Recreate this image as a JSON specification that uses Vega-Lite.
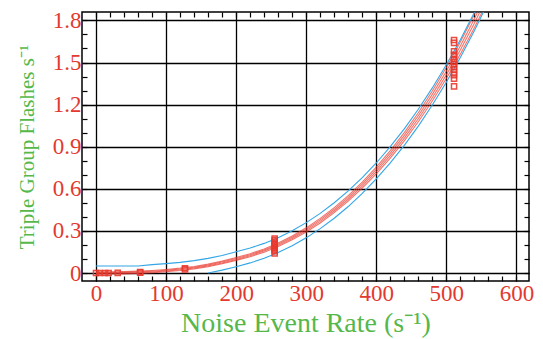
{
  "$schema": "https://vega.github.io/schema/vega-lite/v6.json",
  "width": 447,
  "height": 269,
  "autosize": "none",
  "padding": {"left": 82, "top": 12, "right": 14, "bottom": 58},
  "background": "white",
  "config": {
    "view": {"stroke": "black", "strokeWidth": 1.5},
    "axis": {
      "labelFont": "Liberation Serif",
      "titleFont": "Liberation Serif",
      "titleFontWeight": "normal",
      "labelColor": "#e23a30",
      "titleColor": "#56b84a",
      "domain": false,
      "tickColor": "black",
      "tickWidth": 1.2,
      "gridColor": "black",
      "gridWidth": 1.3,
      "labelOverlap": false,
      "labelFlush": false
    }
  },
  "datasets": {
    "fit": [
      {"x": 0, "r1": -0.008, "r2": -0.003, "r3": 0.003, "r4": 0.008, "up": 0.05, "lo": null},
      {"x": 20, "r1": -0.0075, "r2": -0.0022, "r3": 0.0032, "r4": 0.0085, "up": 0.05, "lo": null},
      {"x": 40, "r1": -0.006, "r2": -0.0007, "r3": 0.0047, "r4": 0.010, "up": 0.05, "lo": null},
      {"x": 60, "r1": -0.0031, "r2": 0.0023, "r3": 0.0077, "r4": 0.0131, "up": 0.05, "lo": null},
      {"x": 80, "r1": 0.0018, "r2": 0.0073, "r3": 0.0127, "r4": 0.0182, "up": 0.060, "lo": null},
      {"x": 100, "r1": 0.0086, "r2": 0.0142, "r3": 0.0198, "r4": 0.0254, "up": 0.067, "lo": null},
      {"x": 120, "r1": 0.0174, "r2": 0.0231, "r3": 0.0289, "r4": 0.0346, "up": 0.076, "lo": null},
      {"x": 140, "r1": 0.0292, "r2": 0.0351, "r3": 0.0409, "r4": 0.0468, "up": 0.088, "lo": null},
      {"x": 160, "r1": 0.0448, "r2": 0.0509, "r3": 0.0571, "r4": 0.0632, "up": 0.104, "lo": 0.0},
      {"x": 180, "r1": 0.0653, "r2": 0.0718, "r3": 0.0782, "r4": 0.0847, "up": 0.125, "lo": 0.0204},
      {"x": 200, "r1": 0.0898, "r2": 0.0966, "r3": 0.1034, "r4": 0.1102, "up": 0.151, "lo": 0.0452},
      {"x": 220, "r1": 0.1162, "r2": 0.1234, "r3": 0.1306, "r4": 0.1378, "up": 0.178, "lo": 0.072},
      {"x": 240, "r1": 0.1485, "r2": 0.1562, "r3": 0.1638, "r4": 0.1715, "up": 0.211, "lo": 0.1047},
      {"x": 260, "r1": 0.1886, "r2": 0.1969, "r3": 0.2051, "r4": 0.2134, "up": 0.252, "lo": 0.1454},
      {"x": 280, "r1": 0.2365, "r2": 0.2455, "r3": 0.2545, "r4": 0.2635, "up": 0.301, "lo": 0.194},
      {"x": 300, "r1": 0.2922, "r2": 0.3021, "r3": 0.3119, "r4": 0.3218, "up": 0.359, "lo": 0.2505},
      {"x": 320, "r1": 0.3568, "r2": 0.3676, "r3": 0.3784, "r4": 0.3892, "up": 0.425, "lo": 0.316},
      {"x": 340, "r1": 0.4301, "r2": 0.4420, "r3": 0.4540, "r4": 0.4659, "up": 0.501, "lo": 0.3904},
      {"x": 360, "r1": 0.5123, "r2": 0.5254, "r3": 0.5386, "r4": 0.5517, "up": 0.585, "lo": 0.4737},
      {"x": 380, "r1": 0.6042, "r2": 0.6187, "r3": 0.6333, "r4": 0.6478, "up": 0.680, "lo": 0.567},
      {"x": 400, "r1": 0.7059, "r2": 0.7220, "r3": 0.7380, "r4": 0.7541, "up": 0.784, "lo": 0.6702},
      {"x": 420, "r1": 0.8184, "r2": 0.8361, "r3": 0.8539, "r4": 0.8716, "up": 0.900, "lo": 0.7842},
      {"x": 440, "r1": 0.9416, "r2": 0.9612, "r3": 0.9808, "r4": 1.0004, "up": 1.027, "lo": 0.9092},
      {"x": 460, "r1": 1.0776, "r2": 1.0992, "r3": 1.1208, "r4": 1.1424, "up": 1.167, "lo": 1.0471},
      {"x": 480, "r1": 1.2253, "r2": 1.2491, "r3": 1.2729, "r4": 1.2967, "up": 1.319, "lo": 1.1969},
      {"x": 500, "r1": 1.3856, "r2": 1.4119, "r3": 1.4381, "r4": 1.4644, "up": 1.484, "lo": 1.3596},
      {"x": 520, "r1": 1.5597, "r2": 1.5886, "r3": 1.6174, "r4": 1.6463, "up": 1.663, "lo": 1.5362},
      {"x": 540, "r1": 1.7475, "r2": 1.7792, "r3": 1.8108, "r4": 1.8425, "up": 1.856, "lo": 1.7266},
      {"x": 560, "r1": 1.950, "r2": 1.9847, "r3": 2.0193, "r4": 2.054, "up": 2.064, "lo": 1.932}
    ],
    "pts": [
      {"x": 0, "y": 0}, {"x": 5, "y": 0}, {"x": 13, "y": 0}, {"x": 18, "y": 0},
      {"x": 31, "y": 0.001}, {"x": 63, "y": 0.003}, {"x": 63, "y": 0.006},
      {"x": 127, "y": 0.026}, {"x": 127, "y": 0.034},
      {"x": 255, "y": 0.14}, {"x": 255, "y": 0.155}, {"x": 255, "y": 0.165}, {"x": 255, "y": 0.175},
      {"x": 255, "y": 0.185}, {"x": 255, "y": 0.195}, {"x": 255, "y": 0.205}, {"x": 255, "y": 0.215},
      {"x": 255, "y": 0.225}, {"x": 255, "y": 0.235}, {"x": 255, "y": 0.245},
      {"x": 511, "y": 1.33}, {"x": 511, "y": 1.385}, {"x": 511, "y": 1.41}, {"x": 511, "y": 1.43},
      {"x": 511, "y": 1.45}, {"x": 511, "y": 1.47}, {"x": 511, "y": 1.49}, {"x": 511, "y": 1.505},
      {"x": 511, "y": 1.525}, {"x": 511, "y": 1.555}, {"x": 511, "y": 1.58}, {"x": 511, "y": 1.64},
      {"x": 511, "y": 1.66}
    ]
  },
  "layer": [
    {
      "data": {"name": "fit"},
      "transform": [{"fold": ["r1", "r2", "r3", "r4"], "as": ["line", "val"]}],
      "mark": {"type": "line", "clip": true, "color": "#e8392e", "strokeWidth": 1.1, "opacity": 0.7},
      "encoding": {
        "x": {
          "field": "x", "type": "quantitative",
          "scale": {"domain": [-20, 618], "nice": false, "zero": false},
          "axis": {
            "orient": "bottom",
            "values": [0,20,40,60,80,100,120,140,160,180,200,220,240,260,280,300,320,340,360,380,400,420,440,460,480,500,520,540,560,580,600],
            "labelExpr": "datum.value % 100 == 0 ? datum.label : ''",
            "format": "d",
            "grid": true,
            "gridOpacity": {"condition": {"test": "datum.value % 100 == 0", "value": 1}, "value": 0},
            "tickSize": -5,
            "labelFontSize": 23,
            "labelPadding": 6,
            "title": "Noise Event Rate (s⁻¹)",
            "titleFontSize": 28,
            "titlePadding": 4
          }
        },
        "y": {
          "field": "val", "type": "quantitative",
          "scale": {"domain": [-0.057, 1.86], "nice": false, "zero": false},
          "axis": {
            "orient": "left",
            "values": [0,0.1,0.2,0.3,0.4,0.5,0.6,0.7,0.8,0.9,1.0,1.1,1.2,1.3,1.4,1.5,1.6,1.7,1.8],
            "labelExpr": "round(datum.value*10) % 3 == 0 ? (datum.value == 0 ? '0' : format(datum.value, '.1f')) : ''",
            "grid": true,
            "gridOpacity": {"condition": {"test": "round(datum.value*10) % 3 == 0", "value": 1}, "value": 0},
            "tickSize": -5,
            "labelFontSize": 23,
            "labelPadding": 6,
            "title": "Triple Group Flashes s⁻¹",
            "titleFontSize": 21,
            "titlePadding": 15
          }
        },
        "detail": {"field": "line", "type": "nominal"}
      }
    },
    {
      "data": {"name": "fit"},
      "transform": [{"fold": ["up", "lo"], "as": ["band", "val"]}],
      "mark": {"type": "line", "clip": true, "color": "#33a6e6", "strokeWidth": 1.1},
      "encoding": {
        "x": {
          "field": "x", "type": "quantitative",
          "axis": {
            "orient": "top",
            "values": [0,20,40,60,80,100,120,140,160,180,200,220,240,260,280,300,320,340,360,380,400,420,440,460,480,500,520,540,560,580,600],
            "labels": false, "grid": false, "tickSize": -5, "title": null
          }
        },
        "y": {
          "field": "val", "type": "quantitative",
          "axis": {
            "orient": "right",
            "values": [0,0.1,0.2,0.3,0.4,0.5,0.6,0.7,0.8,0.9,1.0,1.1,1.2,1.3,1.4,1.5,1.6,1.7,1.8],
            "labels": false, "grid": false, "tickSize": -5, "title": null
          }
        },
        "detail": {"field": "band", "type": "nominal"}
      }
    },
    {
      "data": {"name": "pts"},
      "mark": {"type": "point", "shape": "square", "filled": false, "color": "#e8392e", "size": 26, "strokeWidth": 1.5, "opacity": 0.9, "clip": true},
      "encoding": {
        "x": {"field": "x", "type": "quantitative", "axis": null},
        "y": {"field": "y", "type": "quantitative", "axis": null}
      }
    }
  ],
  "resolve": {"axis": {"x": "independent", "y": "independent"}}
}
